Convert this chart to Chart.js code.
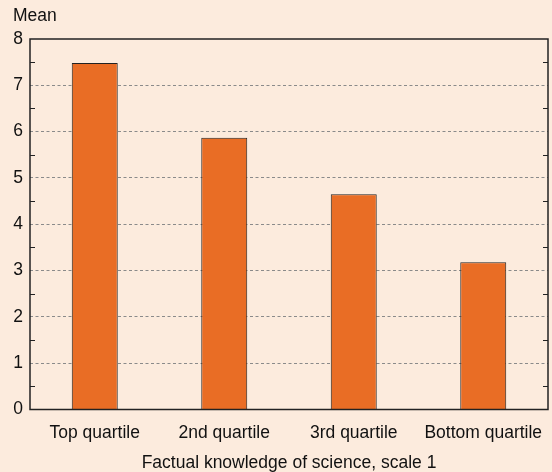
<!DOCTYPE html>
<html>
<head>
<meta charset="utf-8">
<script src="https://cdn.jsdelivr.net/npm/chart.js@4/dist/chart.umd.min.js"></script>
<style>
  html, body { margin: 0; padding: 0; background: #fcebdd; }
  #wrap { width: 552px; height: 472px; }
</style>
</head>
<body>
<div id="wrap"><canvas id="chart" width="552" height="472"></canvas></div>
<script>
const categories = ['Top quartile', '2nd quartile', '3rd quartile', 'Bottom quartile'];
const means = [7.48, 5.87, 4.65, 3.18];
const yTitle = 'Mean';
const xTitle = 'Factual knowledge of science, scale 1';

const FONT = "'Liberation Sans', Arial, Helvetica, sans-serif";

// frame round the plot area plus small inward ticks at the half values
const frame = {
    id: 'frame',
    afterDatasetsDraw(chart) {
        const {ctx, chartArea: a, scales: {y}} = chart;
        ctx.save();
        ctx.strokeStyle = '#222';
        ctx.lineWidth = 1;
        y.ticks.forEach(t => {
            if (Number.isInteger(t.value)) return;
            const py = Math.round(y.getPixelForValue(t.value)) + 0.5;
            ctx.beginPath();
            ctx.moveTo(a.left, py); ctx.lineTo(a.left + 5, py);
            ctx.moveTo(a.right, py); ctx.lineTo(a.right - 5, py);
            ctx.stroke();
        });
        ctx.lineWidth = 1.5;
        ctx.strokeRect(a.left, a.top, a.right - a.left, a.bottom - a.top);
        ctx.restore();
    }
};

new Chart(document.getElementById('chart').getContext('2d'), {
    type: 'bar',
    data: {
        labels: categories,
        datasets: [{
            data: means,
            backgroundColor: '#e96d25',
            borderColor: '#222',
            borderWidth: 1,
            categoryPercentage: 1,
            barPercentage: 0.355
        }]
    },
    options: {
        responsive: false,
        animation: false,
        layout: {padding: {left: 13, right: 4, top: 0, bottom: -2}},
        plugins: {
            legend: {display: false},
            tooltip: {enabled: false},
            title: {
                display: true,
                text: yTitle,
                align: 'start',
                color: '#111',
                font: {family: FONT, size: 17.5, weight: 'normal'},
                padding: {top: 6, bottom: 12}
            }
        },
        scales: {
            x: {
                grid: {display: false, drawTicks: false},
                border: {display: false},
                afterFit(scale) { scale.paddingLeft = 0; scale.paddingRight = 0; },
                ticks: {color: '#111', padding: 13, font: {family: FONT, size: 17.5}},
                title: {
                    display: true,
                    text: xTitle,
                    color: '#111',
                    font: {family: FONT, size: 17.5},
                    padding: {top: -3.5, bottom: 0}
                }
            },
            y: {
                min: 0,
                max: 8,
                afterFit(scale) { scale.width = 17; },
                ticks: {
                    stepSize: 0.5,
                    autoSkip: false,
                    padding: 7,
                    color: '#111',
                    font: {family: FONT, size: 17.5},
                    callback: v => Number.isInteger(v) ? v : ''
                },
                grid: {
                    drawTicks: false,
                    color: c => (Number.isInteger(c.tick.value) && c.tick.value > 0 && c.tick.value < 8) ? '#8a8a8a' : 'rgba(0,0,0,0)',
                    lineWidth: 1
                },
                border: {display: false, dash: [3, 2.5]}
            }
        }
    },
    plugins: [frame]
});
</script>
</body>
</html>
